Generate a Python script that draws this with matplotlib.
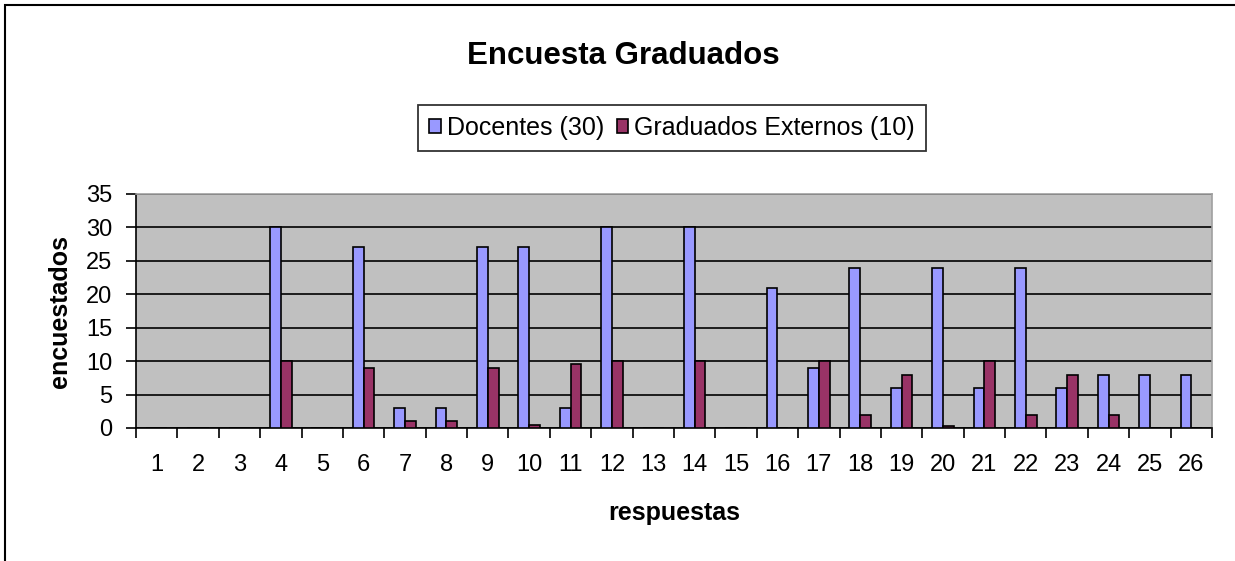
import numpy as np
import matplotlib.pyplot as plt
from matplotlib.patches import Rectangle

plt.rcParams["font.family"] = ["Liberation Sans", "DejaVu Sans"]

# Data
respuestas = [str(i) for i in range(1, 27)]
docentes = [0, 0, 0, 30, 0, 27, 3, 3, 27, 27, 3, 30, 0, 30, 0, 21, 9, 24, 6, 24, 6, 24, 6, 8, 8, 8]
externos = [0, 0, 0, 10, 0, 9, 1, 1, 9, 0.5, 9.5, 10, 0, 10, 0, 0, 10, 2, 8, 0.3, 10, 2, 8, 2, 0, 0]

W, H = 1235, 561
fig = plt.figure(figsize=(W / 100, H / 100), dpi=100)
ax = fig.add_axes([136 / W, 1 - 428 / H, (1212 - 136) / W, (428 - 194) / H])

x = np.arange(len(respuestas))
w = 0.26
ax.bar(x - w / 2, docentes, w, color="#9999FF", edgecolor="black", linewidth=1.2,
       label="Docentes (30)", zorder=3)
ax.bar(x + w / 2, externos, w, color="#993366", edgecolor="black", linewidth=1.2,
       label="Graduados Externos (10)", zorder=3)

ax.set_facecolor("#C0C0C0")
ax.set_xlim(-0.5, len(respuestas) - 0.5)
ax.set_ylim(0, 35)
ax.set_yticks(range(0, 36, 5))
ax.yaxis.grid(True, color="black", linewidth=1.2, zorder=1)
ax.set_axisbelow(True)

ax.set_xticks(x)
ax.set_xticklabels(respuestas)
ax.set_xticks(np.arange(-0.5, len(respuestas), 1), minor=True)
ax.tick_params(axis="x", which="major", length=0, pad=19, labelsize=17)
ax.tick_params(axis="x", which="minor", length=7, width=1.2, direction="out")
ax.tick_params(axis="y", length=7, width=1.2, labelsize=17, pad=10)

for side in ("left", "bottom"):
    ax.spines[side].set_linewidth(1.2)
    ax.spines[side].set_color("black")
for side in ("top", "right"):
    ax.spines[side].set_color("#A0A0A0")
    ax.spines[side].set_linewidth(1.2)

# axis labels, placed where the reference has them
fig.text(60 / W, 1 - 312 / H, "encuestados", rotation=90, ha="center", va="center",
         fontsize=18, fontweight="bold")
fig.text(674 / W, 1 - 513 / H, "respuestas", ha="center", va="center",
         fontsize=18, fontweight="bold")

fig.text(623 / W, 1 - 56 / H, "Encuesta Graduados", ha="center", va="center",
         fontsize=22.5, fontweight="bold")

leg = fig.legend(loc="center", bbox_to_anchor=(672 / W, 1 - 128 / H), ncol=2,
                 fontsize=18, frameon=True, fancybox=False, edgecolor="black",
                 handlelength=0.45, handleheight=0.45, handletextpad=0.25, columnspacing=0.5,
                 borderpad=0.45, borderaxespad=0)
leg.get_frame().set_linewidth(1.3)

# outer chart border (left and top only visible)
fig.patches.append(Rectangle((5 / W, -0.1), 1.2, 1 - 5 / H + 0.1, transform=fig.transFigure,
                             fill=False, edgecolor="black", linewidth=1.5))

fig.savefig("out.png", dpi=100)
